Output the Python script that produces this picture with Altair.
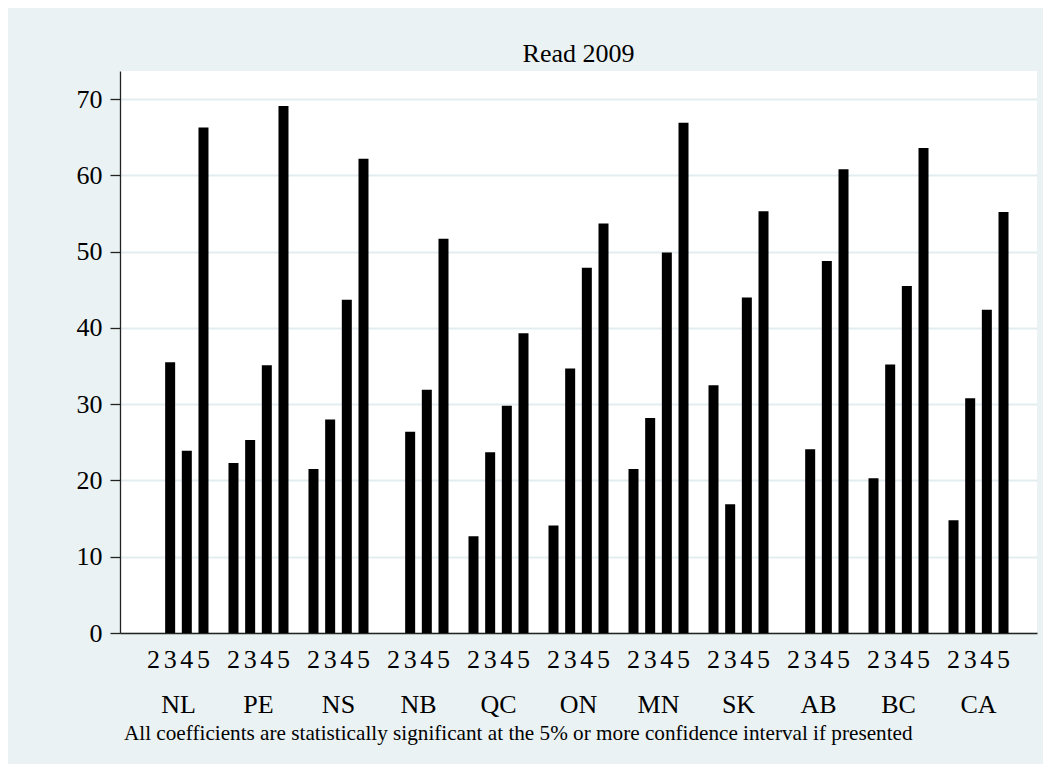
import altair as alt
import pandas as pd

provinces = ["NL", "PE", "NS", "NB", "QC", "ON", "MN", "SK", "AB", "BC", "CA"]
categories = ["2", "3", "4", "5"]
cat2 = [None, 22.3, 21.5, None, 12.7, 14.1, 21.5, 32.5, None, 20.3, 14.8]
cat3 = [35.5, 25.3, 28.0, 26.4, 23.7, 34.7, 28.2, 16.9, 24.1, 35.2, 30.8]
cat4 = [23.9, 35.1, 43.7, 31.9, 29.8, 47.9, 49.9, 44.0, 48.8, 45.5, 42.4]
cat5 = [66.3, 69.1, 62.2, 51.7, 39.3, 53.7, 66.9, 55.3, 60.8, 63.6, 55.2]
y_ticks = [0, 10, 20, 30, 40, 50, 60, 70]
title_text = "Read 2009"
note_text = "All coefficients are statistically significant at the 5% or more confidence interval if presented"

series = {"2": cat2, "3": cat3, "4": cat4, "5": cat5}
rows = []
for c in categories:
    for p, v in zip(provinces, series[c]):
        if v is not None:
            rows.append({"prov": p, "cat": c, "value": v})
bars_df = pd.DataFrame(rows)
labels_df = pd.DataFrame([{"prov": p, "cat": c} for p in provinces for c in categories])

FONT = "Liberation Serif"
BG = "#EAF2F3"

x_enc = alt.X(
    "prov:N",
    sort=provinces,
    scale=alt.Scale(paddingInner=0.25, paddingOuter=0.356),
    axis=alt.Axis(
        title=None, labelAngle=0, ticks=False, tickSize=0, labelPadding=79,
        labelBaseline="alphabetic", labelFontSize=26, labelFont=FONT,
        labelColor="black", domainColor="#222222", domainWidth=1.3,
    ),
)
xoff_enc = alt.XOffset(
    "cat:N", sort=categories,
    scale=alt.Scale(domain=categories, paddingInner=0.4, paddingOuter=0),
)

bars = alt.Chart(bars_df).mark_bar(color="black").encode(
    x=x_enc,
    xOffset=xoff_enc,
    y=alt.Y(
        "value:Q",
        scale=alt.Scale(domain=[0, 73.7], nice=False, zero=True),
        axis=alt.Axis(
            title=None, values=y_ticks, labelFontSize=26, labelFont=FONT,
            labelColor="black", tickSize=10, tickColor="#222222", tickWidth=1.3,
            labelPadding=8, domainColor="#222222", domainWidth=1.3,
            grid=True, gridColor="#E3EDEF", gridWidth=2,
        ),
    ),
)

sub_labels = alt.Chart(labels_df).mark_text(
    font=FONT, fontSize=26, color="black", baseline="alphabetic", align="center"
).encode(
    x=alt.X("prov:N", sort=provinces),
    xOffset=alt.XOffset("cat:N", sort=categories),
    y=alt.value(597),
    text="cat:N",
)

title_df = pd.DataFrame({"t": [title_text]})
title = alt.Chart(title_df).mark_text(
    font=FONT, fontSize=26, color="black", baseline="alphabetic", align="center"
).encode(x=alt.value(458.5), y=alt.value(-9), text="t:N")

note_df = pd.DataFrame({"t": [note_text]})
note = alt.Chart(note_df).mark_text(
    font=FONT, fontSize=21.2, color="black", baseline="alphabetic", align="left"
).encode(x=alt.value(4), y=alt.value(669), text="t:N")

chart = alt.layer(bars, sub_labels, title, note).properties(
    width=917,
    height=562,
    background=BG,
    padding={"left": 112, "top": 63, "right": 6, "bottom": 131},
    autosize=alt.AutoSizeParams(type="none"),
).configure_view(fill="white", stroke=None)

chart.save("out.html", embed_options={"renderer": "svg", "actions": False})
